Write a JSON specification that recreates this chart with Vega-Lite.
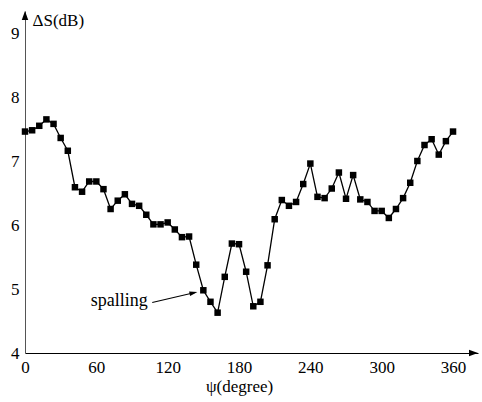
{
  "$schema": "https://vega.github.io/schema/vega-lite/v6.json",
  "width": 453,
  "height": 342,
  "autosize": {"type": "none"},
  "padding": {"left": 25, "top": 11, "right": 4, "bottom": 49},
  "background": "white",
  "config": {
    "view": {"stroke": null},
    "font": "Liberation Serif"
  },
  "datasets": {
    "curve": [
      {"angle": 0, "dS": 7.46}, {"angle": 6, "dS": 7.48}, {"angle": 12, "dS": 7.55},
      {"angle": 18, "dS": 7.65}, {"angle": 24, "dS": 7.58}, {"angle": 30, "dS": 7.36},
      {"angle": 36, "dS": 7.16}, {"angle": 42, "dS": 6.59}, {"angle": 48, "dS": 6.52},
      {"angle": 54, "dS": 6.68}, {"angle": 60, "dS": 6.68}, {"angle": 66, "dS": 6.56},
      {"angle": 72, "dS": 6.25}, {"angle": 78, "dS": 6.38}, {"angle": 84, "dS": 6.48},
      {"angle": 90, "dS": 6.33}, {"angle": 96, "dS": 6.30}, {"angle": 102, "dS": 6.16},
      {"angle": 108, "dS": 6.01}, {"angle": 114, "dS": 6.01}, {"angle": 120, "dS": 6.04},
      {"angle": 126, "dS": 5.93}, {"angle": 132, "dS": 5.81}, {"angle": 138, "dS": 5.82},
      {"angle": 144, "dS": 5.38}, {"angle": 150, "dS": 4.98}, {"angle": 156, "dS": 4.80},
      {"angle": 162, "dS": 4.63}, {"angle": 168, "dS": 5.19}, {"angle": 174, "dS": 5.71},
      {"angle": 180, "dS": 5.70}, {"angle": 186, "dS": 5.27}, {"angle": 192, "dS": 4.73},
      {"angle": 198, "dS": 4.80}, {"angle": 204, "dS": 5.37}, {"angle": 210, "dS": 6.09},
      {"angle": 216, "dS": 6.39}, {"angle": 222, "dS": 6.30}, {"angle": 228, "dS": 6.36},
      {"angle": 234, "dS": 6.64}, {"angle": 240, "dS": 6.96}, {"angle": 246, "dS": 6.44},
      {"angle": 252, "dS": 6.42}, {"angle": 258, "dS": 6.57}, {"angle": 264, "dS": 6.82},
      {"angle": 270, "dS": 6.41}, {"angle": 276, "dS": 6.78}, {"angle": 282, "dS": 6.40},
      {"angle": 288, "dS": 6.36}, {"angle": 294, "dS": 6.22}, {"angle": 300, "dS": 6.22},
      {"angle": 306, "dS": 6.11}, {"angle": 312, "dS": 6.25}, {"angle": 318, "dS": 6.42},
      {"angle": 324, "dS": 6.66}, {"angle": 330, "dS": 7.00}, {"angle": 336, "dS": 7.25},
      {"angle": 342, "dS": 7.34}, {"angle": 348, "dS": 7.10}, {"angle": 354, "dS": 7.31},
      {"angle": 360, "dS": 7.46}
    ]
  },
  "layer": [
    {
      "data": {"name": "curve"},
      "mark": {"type": "line", "color": "black", "strokeWidth": 1.3},
      "encoding": {
        "x": {
          "field": "angle",
          "type": "quantitative",
          "scale": {"domain": [0, 381], "nice": false, "zero": false},
          "axis": {
            "title": "ψ(degree)",
            "titleFont": "Liberation Serif",
            "titleFontSize": 17,
            "titleFontWeight": "normal",
            "titleColor": "black",
            "titleX": 214,
            "titleY": 38,
            "titleBaseline": "alphabetic",
            "values": [0, 30, 60, 90, 120, 150, 180, 210, 240, 270, 300, 330, 360],
            "labelExpr": "datum.value % 60 === 0 ? format(datum.value, 'd') : ''",
            "labelFont": "Liberation Serif",
            "labelFontSize": 17,
            "labelColor": "black",
            "labelPadding": 6,
            "labelFlush": false,
            "labelOverlap": false,
            "grid": false,
            "domainColor": "black",
            "domainWidth": 1,
            "tickColor": "black",
            "tickWidth": 1,
            "tickSize": 0,
            "encode": {
              "ticks": {"update": {"y2": {"signal": "datum.value % 60 === 0 ? -6 : -4"}}}
            }
          }
        },
        "y": {
          "field": "dS",
          "type": "quantitative",
          "scale": {"domain": [4, 9.34375], "nice": false, "zero": false},
          "axis": {
            "title": "ΔS(dB)",
            "titleFont": "Liberation Serif",
            "titleFontSize": 17,
            "titleFontWeight": "normal",
            "titleColor": "black",
            "titleAngle": 0,
            "titleAlign": "left",
            "titleBaseline": "alphabetic",
            "titleX": 7,
            "titleY": 14,
            "values": [4, 4.5, 5, 5.5, 6, 6.5, 7, 7.5, 8, 8.5, 9],
            "labelExpr": "datum.value % 1 === 0 ? format(datum.value, 'd') : ''",
            "labelFont": "Liberation Serif",
            "labelFontSize": 17,
            "labelColor": "black",
            "labelPadding": 6,
            "labelFlush": false,
            "labelOverlap": false,
            "grid": false,
            "domainColor": "#555555",
            "domainWidth": 1,
            "tickColor": "black",
            "tickWidth": 1,
            "tickSize": 0,
            "encode": {
              "ticks": {"update": {"x2": {"signal": "datum.value % 1 === 0 ? 6 : 4"}}}
            }
          }
        }
      }
    },
    {
      "data": {"name": "curve"},
      "mark": {"type": "point", "shape": "square", "filled": true, "size": 42, "color": "black", "opacity": 1},
      "encoding": {
        "x": {"field": "angle", "type": "quantitative"},
        "y": {"field": "dS", "type": "quantitative"}
      }
    },
    {
      "data": {"values": [{"angle": 79.3, "dS": 4.73, "note": "spalling"}]},
      "mark": {"type": "text", "font": "Liberation Serif", "fontSize": 18, "align": "center", "baseline": "alphabetic", "color": "black"},
      "encoding": {
        "x": {"field": "angle", "type": "quantitative"},
        "y": {"field": "dS", "type": "quantitative"},
        "text": {"field": "note"}
      }
    },
    {
      "data": {"values": [{"angle": 107, "dS": 4.79, "angle2": 143, "dS2": 4.945}]},
      "mark": {"type": "rule", "color": "black", "strokeWidth": 1.1},
      "encoding": {
        "x": {"field": "angle", "type": "quantitative"},
        "y": {"field": "dS", "type": "quantitative"},
        "x2": {"field": "angle2"},
        "y2": {"field": "dS2"}
      }
    },
    {
      "data": {"values": [{"angle": 145, "dS": 4.953}]},
      "mark": {"type": "point", "shape": "M0,0L-1,-0.3L-1,0.3Z", "filled": true, "size": 256, "angle": -12.7, "color": "black", "opacity": 1, "strokeWidth": 0},
      "encoding": {
        "x": {"field": "angle", "type": "quantitative"},
        "y": {"field": "dS", "type": "quantitative"}
      }
    },
    {
      "data": {"values": [{"angle": 381, "dS": 4}]},
      "mark": {"type": "point", "shape": "M0,0L-1,-0.36L-1,0.36Z", "filled": true, "size": 324, "angle": 0, "color": "black", "opacity": 1, "strokeWidth": 0},
      "encoding": {
        "x": {"field": "angle", "type": "quantitative"},
        "y": {"field": "dS", "type": "quantitative"}
      }
    },
    {
      "data": {"values": [{"angle": 0, "dS": 9.34375}]},
      "mark": {"type": "point", "shape": "M0,0L-1,-0.36L-1,0.36Z", "filled": true, "size": 324, "angle": -90, "color": "black", "opacity": 1, "strokeWidth": 0},
      "encoding": {
        "x": {"field": "angle", "type": "quantitative"},
        "y": {"field": "dS", "type": "quantitative"}
      }
    }
  ]
}
